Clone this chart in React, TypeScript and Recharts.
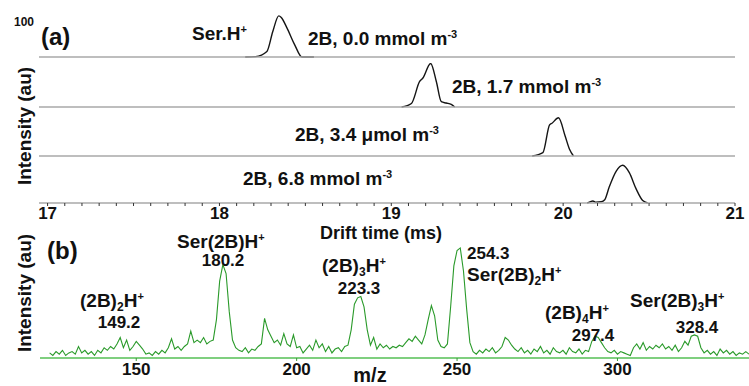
import React from 'react';
import { LineChart, Line, XAxis, YAxis } from 'recharts';

const FONT = '"Liberation Sans", Arial, sans-serif';

// (a) drift time spectra, one strip per concentration
const DRIFT_MAJOR = [17, 18, 19, 20, 21];
const STRIP_LABELS = ['2B, 0.0 mmol m', '2B, 1.7 mmol m', '2B, 3.4 \u03bcmol m', '2B, 6.8 mmol m'];

const DRIFT_1 = [18.15, 18.21, 18.276, 18.31, 18.345, 18.36, 18.392, 18.438, 18.48, 18.55];
const INT_1 = [0, 1, 13, 60, 98, 94, 70, 29, 0, 0];

const DRIFT_2 = [19.06, 19.117, 19.165, 19.184, 19.229, 19.262, 19.291, 19.32, 19.349, 19.369];
const INT_2 = [0, 8, 58, 66, 99, 58, 12, 9, 6, 0];

const DRIFT_3 = [19.82, 19.882, 19.921, 19.935, 19.973, 20.012, 20.037, 20.06];
const INT_3 = [0, 8, 74, 78, 91, 47, 16, 0];

const DRIFT_4 = [20.14, 20.153, 20.173, 20.19, 20.222, 20.242, 20.268, 20.309, 20.347, 20.385, 20.424, 20.463, 20.492];
const INT_4 = [0, 2, 5, 2, 3, 8, 39, 78, 92, 74, 35, 6, 0];

// (b) mass spectrum, one value per m/z unit starting at MZ_START
const MZ_TICKS = [150, 200, 250, 300];
const MZ_START = 123;
const SPECTRUM = [
  4, 2, 5, 3, 6, 2, 4, 5, 3, 9,
  4, 6, 3, 5, 2, 6, 4, 8, 6, 9,
  7, 11, 16, 8, 14, 6, 9, 13, 10, 7,
  3, 4, 2, 5, 3, 6, 4, 8, 15, 7,
  9, 6, 9, 11, 21, 12, 14, 12, 16, 11,
  13, 14, 30, 60, 73, 66, 36, 14, 8, 6,
  5, 8, 4, 7, 6, 9, 11, 31, 22, 17,
  12, 14, 10, 19, 11, 9, 18, 8, 9, 4,
  7, 10, 6, 14, 8, 11, 5, 9, 4, 7,
  8, 5, 9, 10, 22, 42, 47, 48, 40, 22,
  10, 16, 7, 11, 8, 10, 7, 9, 8, 10,
  9, 12, 15, 13, 17, 14, 11, 18, 30, 41,
  33, 14, 9, 8, 11, 40, 72, 84, 86, 68,
  38, 12, 5, 3, 6, 4, 7, 5, 8, 4,
  6, 9, 16, 14, 10, 7, 5, 8, 4, 6,
  3, 7, 5, 9, 4, 6, 3, 8, 5, 4,
  6, 3, 8, 5, 4, 7, 3, 6, 5, 13,
  17, 16, 12, 8, 5, 4, 6, 3, 5, 4,
  3, 2, 8, 11, 7, 12, 6, 9, 7, 10,
  8, 11, 7, 9, 6, 10, 5, 8, 13, 10,
  17, 18, 17, 8, 4, 6, 3, 5, 2, 7,
  4, 6, 3, 5, 2, 4, 3, 5, 3,
];

// minor ticks every 0.1 ms and every 10 intensity units
const DRIFT_MINOR = Array.from({ length: 41 }, (_, k) => Math.round((17 + k * 0.1) * 10) / 10);
const Y_MINOR = Array.from({ length: 11 }, (_, k) => k * 10);

const driftTick = (props: any) => {
  const { x, y, payload } = props;
  if (!DRIFT_MAJOR.includes(payload.value)) return <g />;
  return (
    <text x={x} y={y} dy={11} textAnchor="middle" fill="#111" fontSize={17} fontWeight={700} fontFamily={FONT}>
      {payload.value}
    </text>
  );
};

interface StripProps {
  drift: number[];
  values: number[];
  top: number;
  base: number;
  showLabels: boolean;
}

const Strip: React.FC<StripProps> = ({ drift, values, top, base, showLabels }) => {
  const data = drift.map((t, i) => ({ t, v: values[i] }));
  const axisH = showLabels ? 24 : 4;
  return (
    <div style={{ position: 'absolute', left: 0, top }}>
      <LineChart width={749} height={base - top + axisH} data={data} margin={{ top: 0, right: 14, bottom: 0, left: 39 }}>
        <XAxis
          dataKey="t"
          type="number"
          domain={[16.95, 21]}
          ticks={DRIFT_MINOR}
          interval={0}
          height={axisH}
          tickSize={3}
          axisLine={{ stroke: '#a8a8a8', strokeWidth: 1.5 }}
          tickLine={{ stroke: '#333' }}
          tick={showLabels ? driftTick : false}
          allowDataOverflow
        />
        <YAxis
          type="number"
          domain={[0, 100]}
          ticks={Y_MINOR}
          interval={0}
          width={0}
          tick={false}
          tickSize={5}
          axisLine={{ stroke: '#666', strokeWidth: 1.2 }}
          tickLine={{ stroke: '#bdbdbd' }}
        />
        <Line type="monotone" dataKey="v" stroke="#151515" strokeWidth={1.4} dot={false} isAnimationActive={false} />
      </LineChart>
    </div>
  );
};

const Sup: React.FC<{ children: React.ReactNode }> = ({ children }) => (
  <tspan dy={-7} fontSize={11}>{children}</tspan>
);

// label with a subscript digit, e.g. (2B)2H+
const SubLabel: React.FC<{ x: number; y: number; pre: string; sub: string }> = ({ x, y, pre, sub }) => (
  <text x={x} y={y} fontSize={19}>
    {pre}
    <tspan dy={4} fontSize={12}>{sub}</tspan>
    <tspan dy={-4}>H</tspan>
    <Sup>+</Sup>
  </text>
);

const App: React.FC = () => {
  const spec = SPECTRUM.map((v, i) => ({ mz: MZ_START + i, i: v }));
  const strips = [
    { drift: DRIFT_1, values: INT_1, top: 15, base: 57 },
    { drift: DRIFT_2, values: INT_2, top: 63, base: 107 },
    { drift: DRIFT_3, values: INT_3, top: 114, base: 156 },
    { drift: DRIFT_4, values: INT_4, top: 162, base: 203 },
  ];
  const labelPos = [
    { x: 308, y: 45 },
    { x: 452, y: 93 },
    { x: 295, y: 141 },
    { x: 243, y: 185 },
  ];

  return (
    <div style={{ position: 'absolute', left: 0, top: 0, width: 749, height: 386, background: '#fff', fontFamily: FONT }}>
      {strips.map((s, k) => (
        <Strip key={k} {...s} showLabels={k === strips.length - 1} />
      ))}

      <div style={{ position: 'absolute', left: 0, top: 220 }}>
        <LineChart width={749} height={166} data={spec} margin={{ top: 10, right: 0, bottom: 0, left: 40 }}>
          <XAxis
            dataKey="mz"
            type="number"
            domain={[120, 341]}
            ticks={MZ_TICKS}
            interval={0}
            height={28}
            tickSize={3}
            tickMargin={2}
            axisLine={{ stroke: '#7fcf7f', strokeWidth: 2 }}
            tickLine={{ stroke: '#3a9a3a' }}
            tick={{ fill: '#111', fontSize: 17, fontWeight: 700, fontFamily: FONT }}
          />
          <YAxis
            type="number"
            domain={[0, 100]}
            ticks={Y_MINOR}
            interval={0}
            width={0}
            mirror
            tick={false}
            tickSize={8}
            axisLine={{ stroke: '#17871a', strokeWidth: 3 }}
            tickLine={{ stroke: '#9ad69a' }}
          />
          <Line type="linear" dataKey="i" stroke="#2a9a2a" strokeWidth={1.1} dot={false} isAnimationActive={false} />
        </LineChart>
      </div>

      <svg width={749} height={386} style={{ position: 'absolute', left: 0, top: 0, pointerEvents: 'none' }}>
        <g fontFamily={FONT} fontWeight={700} fill="#111">
          {/* panel (a) */}
          <text x={14} y={26} fontSize={12}>100</text>
          <text x={41} y={45} fontSize={24}>(a)</text>
          <text x={192} y={40} fontSize={19}>Ser.H<Sup>+</Sup></text>
          {STRIP_LABELS.map((t, k) => (
            <text key={k} x={labelPos[k].x} y={labelPos[k].y} fontSize={19}>
              {t}<Sup>-3</Sup>
            </text>
          ))}
          <text x={24} y={126} fontSize={19} textAnchor="middle" transform="rotate(-90 24 126)" dy={7}>Intensity (au)</text>
          <text x={381} y={239} fontSize={18} textAnchor="middle">Drift time (ms)</text>

          {/* panel (b) */}
          <text x={47} y={259} fontSize={24}>(b)</text>
          <text x={24} y={293} fontSize={19} textAnchor="middle" transform="rotate(-90 24 293)" dy={7}>Intensity (au)</text>
          <text x={177} y={248} fontSize={19}>Ser(2B)H<Sup>+</Sup></text>
          <text x={223} y={266} fontSize={17} textAnchor="middle">180.2</text>
          <SubLabel x={322} y={272} pre="(2B)" sub="3" />
          <text x={359} y={294} fontSize={17} textAnchor="middle">223.3</text>
          <text x={467} y={259} fontSize={17}>254.3</text>
          <SubLabel x={467} y={281} pre="Ser(2B)" sub="2" />
          <SubLabel x={80} y={307} pre="(2B)" sub="2" />
          <text x={119} y={328} fontSize={17} textAnchor="middle">149.2</text>
          <SubLabel x={545} y={319} pre="(2B)" sub="4" />
          <text x={593} y={341} fontSize={17} textAnchor="middle">297.4</text>
          <SubLabel x={630} y={307} pre="Ser(2B)" sub="3" />
          <text x={697} y={333} fontSize={17} textAnchor="middle">328.4</text>
          <text x={370} y={382} fontSize={20} textAnchor="middle">m/z</text>
        </g>
      </svg>
    </div>
  );
};

export default App;
